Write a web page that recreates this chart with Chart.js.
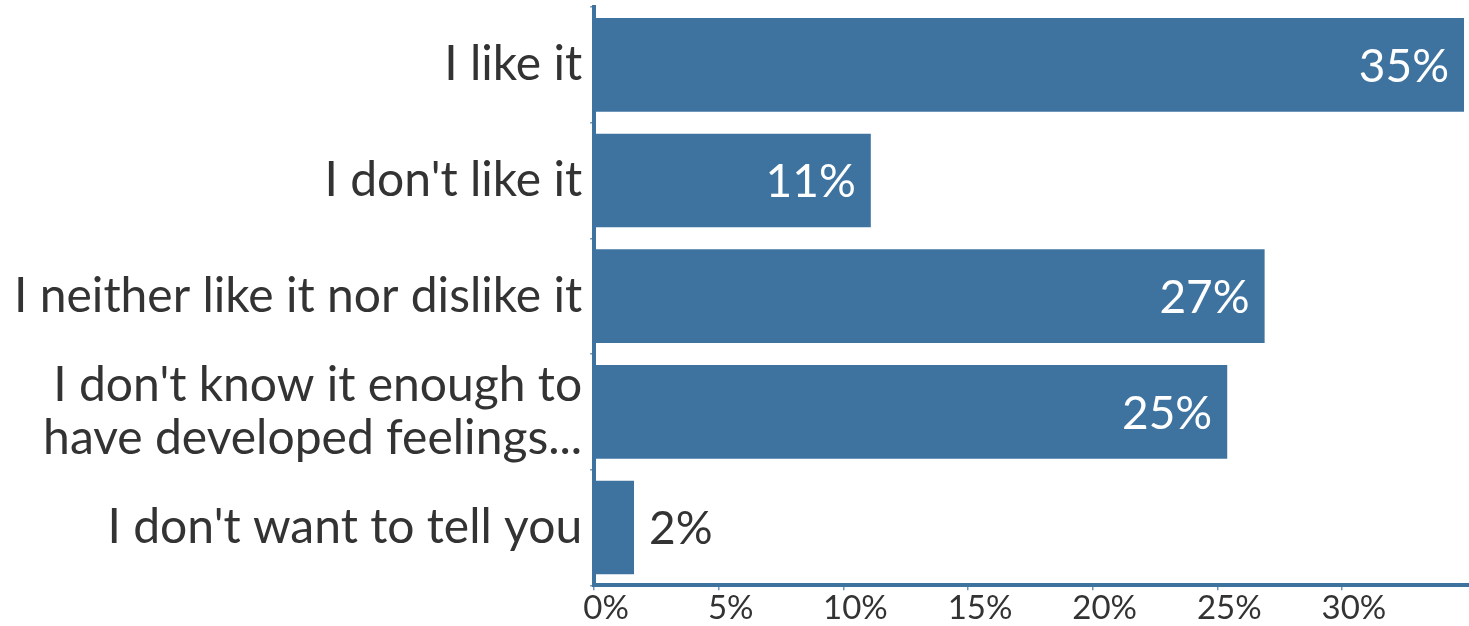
<!DOCTYPE html>
<html>
<head>
<meta charset="utf-8">
<script src="https://cdn.jsdelivr.net/npm/chart.js@4"></script>
<style>
  html, body { margin: 0; padding: 0; background: #fff; }
  #wrap { width: 1469px; height: 626px; position: relative; }
</style>
</head>
<body>
<div id="wrap"><canvas id="feelingsChart"></canvas></div>
<script>
const categories = [
  'I like it',
  "I don't like it",
  'I neither like it nor dislike it',
  ["I don't know it enough to", 'have developed feelings...'],
  "I don't want to tell you"
];
const shares = [34.9, 11.1, 26.9, 25.4, 1.6];
const xTicks = [0, 5, 10, 15, 20, 25, 30];

const barBlue = '#3e73a0';
const textDark = '#333333';
const fontFamily = 'Lato, "Open Sans", sans-serif';

// value labels: inside the bar end when there is room, otherwise just outside
const barLabels = {
  id: 'barLabels',
  afterDatasetsDraw(chart) {
    const ctx = chart.ctx;
    const meta = chart.getDatasetMeta(0);
    ctx.save();
    ctx.font = '46px ' + fontFamily;
    ctx.textBaseline = 'middle';
    meta.data.forEach((bar, i) => {
      const txt = Math.round(shares[i]) + '%';
      const w = ctx.measureText(txt).width;
      const len = bar.x - bar.base;
      if (len > w + 30) {
        ctx.fillStyle = '#ffffff';
        ctx.textAlign = 'right';
        ctx.fillText(txt, bar.x - 15, bar.y + 2);
      } else {
        ctx.fillStyle = textDark;
        ctx.textAlign = 'left';
        ctx.fillText(txt, bar.x + 15, bar.y + 2);
      }
    });
    ctx.restore();
  }
};

new Chart(document.getElementById('feelingsChart'), {
  type: 'bar',
  data: {
    labels: categories,
    datasets: [{
      data: shares,
      backgroundColor: barBlue,
      borderWidth: 0,
      barPercentage: 0.81,
      categoryPercentage: 1
    }]
  },
  options: {
    indexAxis: 'y',
    responsive: true,
    maintainAspectRatio: false,
    animation: false,
    layout: { padding: { top: 7, right: 0, bottom: 0, left: 6 } },
    plugins: {
      legend: { display: false },
      tooltip: { enabled: false }
    },
    scales: {
      x: {
        min: 0,
        max: 35.1,
        afterBuildTicks: axis => { axis.ticks = xTicks.map(v => ({ value: v })); },
        border: { color: barBlue, width: 4 },
        grid: { drawOnChartArea: false, tickLength: 5, color: '#6f95b8', lineWidth: 1.5 },
        ticks: {
          callback: v => v + '%',
          color: textDark,
          font: { family: fontFamily, size: 33, lineHeight: 0.9 },
          padding: 3,
          labelOffset: 12,
          maxRotation: 0
        }
      },
      y: {
        afterFit: axis => { axis.paddingTop = 0; axis.paddingBottom = 0; },
        border: { color: barBlue, width: 4 },
        grid: { drawOnChartArea: false, tickLength: 4, color: '#6f95b8', lineWidth: 1.5 },
        ticks: {
          color: textDark,
          font: { family: fontFamily, size: 48, lineHeight: 1.1 },
          padding: 8
        }
      }
    }
  },
  plugins: [barLabels]
});
</script>
</body>
</html>
